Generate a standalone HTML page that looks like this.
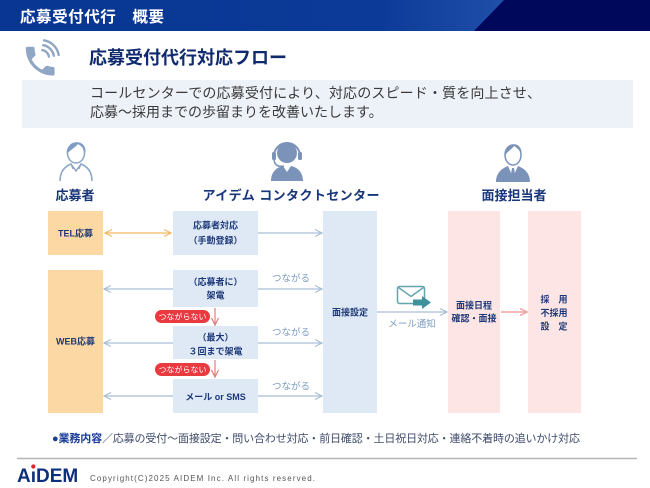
<!DOCTYPE html>
<html><head><meta charset="utf-8"><style>
html,body{margin:0;padding:0;background:#fff;}
svg{display:block;}
text{font-family:"Liberation Sans","Noto Sans CJK JP",sans-serif;}
</style></head><body>
<svg width="650" height="488" viewBox="0 0 650 488" xmlns="http://www.w3.org/2000/svg">
<defs>
<linearGradient id="hg" x1="0" x2="505" y1="0" y2="0" gradientUnits="userSpaceOnUse">
<stop offset="0" stop-color="#083692"/>
<stop offset="0.75" stop-color="#0b3a98"/>
<stop offset="1" stop-color="#1f4fa9"/>
</linearGradient>
</defs>
<!-- header -->
<rect x="0" y="0" width="650" height="31" fill="url(#hg)"/>
<polygon points="474,31 504,0 650,0 650,31" fill="#00085c"/>
<text x="20" y="22" font-size="15.5" font-weight="bold" fill="#fff" textLength="144">応募受付代行　概要</text>

<!-- phone icon -->
<g transform="translate(21,42) scale(1.6)">
<path d="M6.62 10.79c1.44 2.83 3.76 5.140 6.59 6.59l2.2-2.2c.27-.27.67-.36 1.02-.24 1.12.37 2.33.57 3.57.57.55 0 1 .45 1 1V20c0 .55-.45 1-1 1-9.39 0-17-7.61-17-17 0-.55.45-1 1-1h3.5c.55 0 1 .45 1 1 0 1.25.2 2.450.57 3.57.11.35.03.74-.25 1.020l-2.2 2.2z" fill="#8fa6c4"/>
</g>
<g fill="none" stroke="#8fa6c4" stroke-width="2.4" stroke-linecap="round">
<path d="M42.4,50.1 A8,8 0 0 1 48.9,56.6"/>
<path d="M43.3,45.2 A13,13 0 0 1 53.8,55.7"/>
<path d="M44.1,40.3 A18,18 0 0 1 58.7,54.9"/>
</g>

<!-- title -->
<text x="89" y="64" font-size="18" font-weight="bold" fill="#0f2a6e" textLength="198">応募受付代行対応フロー</text>

<!-- info box -->
<rect x="22" y="80" width="611" height="48" fill="#edf1f8"/>
<text x="90" y="98" font-size="14" fill="#3a3a3a" textLength="451">コールセンターでの応募受付により、対応のスピード・質を向上させ、</text>
<text x="90" y="117" font-size="14" fill="#3a3a3a">応募～採用までの歩留まりを改善いたします。</text>

<!-- applicant icon -->
<path d="M60,181 C60,170 66,166 71,164 L76,171 L81,164 C86,166 92,170 92,181" fill="none" stroke="#8ba4c6" stroke-width="1.5"/>
<path d="M71,164 L73,169 M81,164 L79,169" stroke="#8ba4c6" stroke-width="1.2"/>
<ellipse cx="76" cy="153" rx="8.5" ry="10" fill="#fff" stroke="#8ba4c6" stroke-width="1.5"/>
<path d="M67,154 C65,140 87,137 85.5,153 C84,148 81,146 78,144 C75,148 71,149 67,154 Z" fill="#7f9cc4"/>

<!-- headset icon -->
<path d="M271,181 C271,171 278,167 283,166 L287,172 L291,166 C296,167 303,171 303,181 Z" fill="#7b93b9"/>
<circle cx="287" cy="153" r="10" fill="#7b93b9"/>
<path d="M274,156 A13,13 0 0 1 300,156" fill="none" stroke="#7b93b9" stroke-width="2"/>
<rect x="272" y="152" width="4" height="8" rx="1.5" fill="#7b93b9"/>
<rect x="298" y="152" width="4" height="8" rx="1.5" fill="#7b93b9"/>
<path d="M274,160 C275,166 279,167 284,166" fill="none" stroke="#7b93b9" stroke-width="1.6"/>

<!-- interviewer icon -->
<path d="M496,182 C496,172 503,168 508,166 L513,172 L518,166 C523,168 530,172 530,182 Z" fill="#7b93b9"/>
<polygon points="508,166 513,177 518,166" fill="#fff"/>
<polygon points="512,168 514,168 515.5,177 513,181 510.5,177" fill="#7b93b9"/>
<ellipse cx="513" cy="155" rx="8" ry="10" fill="#fff" stroke="#7b93b9" stroke-width="1.5"/>
<path d="M504.5,156 C503,142 523,139 521.5,155 C520,150 517,148 514,146 C511,150 508,151 504.5,156 Z" fill="#7b93b9"/>

<!-- column labels -->
<text x="75" y="200" font-size="13" font-weight="bold" fill="#17357a" text-anchor="middle">応募者</text>
<text x="291" y="200" font-size="13" font-weight="bold" fill="#17357a" text-anchor="middle" textLength="177">アイデム コンタクトセンター</text>
<text x="514" y="200" font-size="13" font-weight="bold" fill="#17357a" text-anchor="middle">面接担当者</text>

<!-- boxes -->
<rect x="48" y="211" width="55" height="44" fill="#fcd8a4"/>
<rect x="48" y="270" width="55" height="143" fill="#fcd8a4"/>
<rect x="173" y="211" width="85" height="44" fill="#dfe9f6"/>
<rect x="173" y="270" width="85" height="37" fill="#dfe9f6"/>
<rect x="173" y="326" width="85" height="33" fill="#dfe9f6"/>
<rect x="173" y="379" width="85" height="34" fill="#dfe9f6"/>
<rect x="323" y="211" width="54" height="202" fill="#dfe9f6"/>
<rect x="448" y="211" width="52" height="202" fill="#fde5e5"/>
<rect x="528" y="211" width="53" height="202" fill="#fde5e5"/>

<!-- box texts -->
<g font-size="9" font-weight="bold" fill="#1d3878" text-anchor="middle">
<text x="75.5" y="236.5">TEL応募</text>
<text x="75.5" y="344.5">WEB応募</text>
<text x="215.5" y="228.5">応募者対応</text>
<text x="215.5" y="243.5">（手動登録）</text>
<text x="215.5" y="285">（応募者に）</text>
<text x="215.5" y="298.5">架電</text>
<text x="215.5" y="340.5">（最大）</text>
<text x="215.5" y="354.5">３回まで架電</text>
<text x="215.5" y="400">メール or SMS</text>
<text x="350" y="315.5">面接設定</text>
<text x="474" y="308.5">面接日程</text>
<text x="474" y="321.5">確認・面接</text>
<text x="554" y="302.5">採　用</text>
<text x="554" y="316">不採用</text>
<text x="554" y="329.5">設　定</text>
</g>

<!-- arrows -->
<g fill="none" stroke-width="1.2">
<g stroke="#f2b964">
<line x1="105" y1="233" x2="171" y2="233"/>
<polyline points="112,229.5 105,233 112,236.5"/>
<polyline points="164,229.5 171,233 164,236.5"/>
</g>
<g stroke="#a9bdd5">
<line x1="258" y1="233" x2="322" y2="233"/>
<polyline points="315,229.5 322,233 315,236.5"/>
<line x1="104" y1="289" x2="173" y2="289"/>
<polyline points="111,285.5 104,289 111,292.5"/>
<line x1="104" y1="343" x2="173" y2="343"/>
<polyline points="111,339.5 104,343 111,346.5"/>
<line x1="104" y1="396" x2="173" y2="396"/>
<polyline points="111,392.5 104,396 111,399.5"/>
<line x1="258" y1="289" x2="322" y2="289"/>
<polyline points="315,285.5 322,289 315,292.5"/>
<line x1="258" y1="343" x2="322" y2="343"/>
<polyline points="315,339.5 322,343 315,346.5"/>
<line x1="258" y1="396" x2="322" y2="396"/>
<polyline points="315,392.5 322,396 315,399.5"/>
<line x1="377" y1="312" x2="447" y2="312"/>
<polyline points="440,308.5 447,312 440,315.5"/>
</g>
<g stroke="#e47b7b">
<line x1="215" y1="308" x2="215" y2="325"/>
<polyline points="211.5,318 215,325 218.5,318"/>
<line x1="215" y1="360" x2="215" y2="377"/>
<polyline points="211.5,370 215,377 218.5,370"/>
</g>
<g stroke="#f0a3a3" stroke-width="1.5">
<line x1="501" y1="312" x2="527" y2="312"/>
<polyline points="520,308.5 527,312 520,315.5"/>
</g>
</g>

<!-- つながる labels -->
<g font-size="9.5" fill="#7b9cc2" text-anchor="middle">
<text x="291" y="281.5">つながる</text>
<text x="291" y="335.5">つながる</text>
<text x="291" y="389.5">つながる</text>
<text x="412" y="327">メール通知</text>
</g>

<!-- red pills -->
<rect x="155" y="310" width="55" height="13" rx="6.5" fill="#e83a3f"/>
<rect x="155" y="363" width="55" height="13" rx="6.5" fill="#e83a3f"/>
<g font-size="8" fill="#fff" text-anchor="middle">
<text x="182.5" y="319.5">つながらない</text>
<text x="182.5" y="372.5">つながらない</text>
</g>

<!-- mail icon -->
<rect x="397.5" y="286.5" width="27" height="17" rx="2" fill="#fff" stroke="#63a5ad" stroke-width="1.5"/>
<polyline points="398.5,287.5 411,296.5 423.5,287.5" fill="none" stroke="#63a5ad" stroke-width="1.5"/>
<rect x="413" y="299.5" width="10" height="6" fill="#3f919c"/>
<polygon points="422,296 431,302.5 422,309" fill="#3f919c"/>

<!-- bottom text -->
<text x="52" y="442" font-size="11" fill="#3d4a6a" textLength="528"><tspan fill="#1a3d9a" font-weight="bold">●業務内容</tspan>／応募の受付～面接設定・問い合わせ対応・前日確認・土日祝日対応・連絡不着時の追いかけ対応</text>

<line x1="17" y1="458.5" x2="637" y2="458.5" stroke="#b5b5b5" stroke-width="1.5"/>

<!-- logo -->
<text x="17" y="482" font-size="19" font-weight="bold" fill="#0d2f7e" font-family="Liberation Sans, sans-serif">A<tspan>ı</tspan>DEM</text>
<circle cx="33.3" cy="466.5" r="2.1" fill="#e8242b"/>
<text x="90" y="481" font-size="8" fill="#555" textLength="225">Copyright(C)2025  AIDEM  Inc. All rights reserved.</text>
</svg>
</body></html>
